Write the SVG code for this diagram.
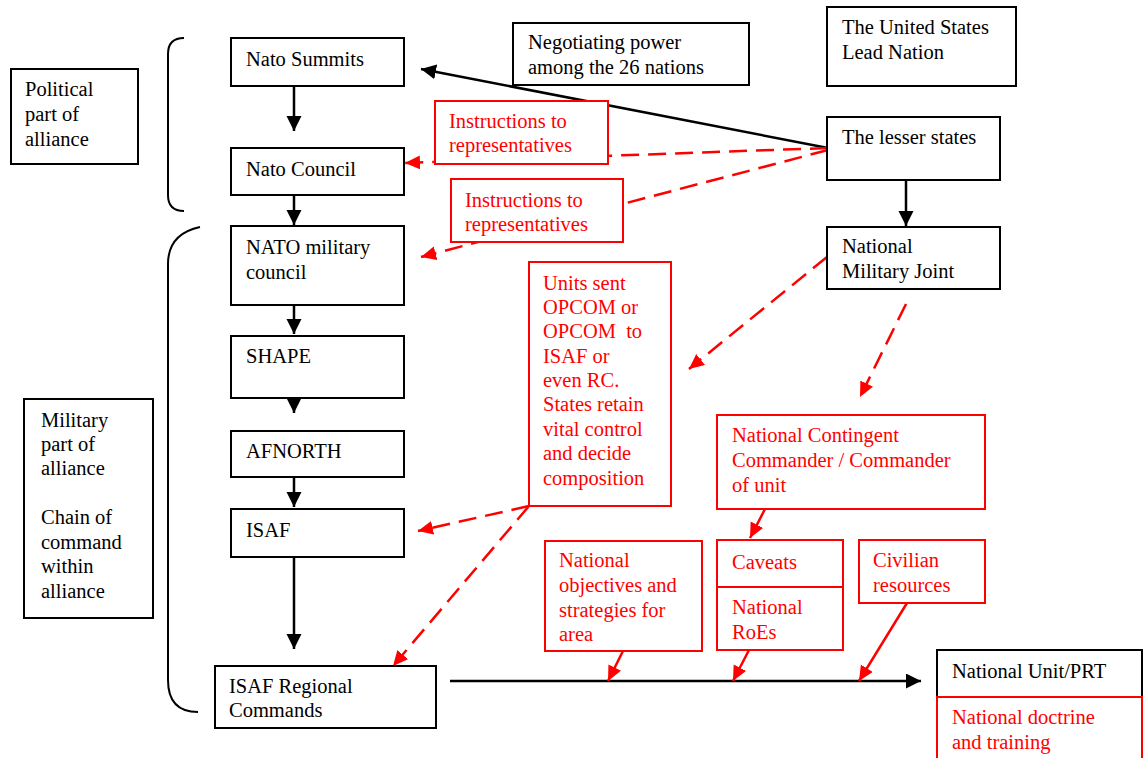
<svg xmlns="http://www.w3.org/2000/svg" width="1148" height="758" viewBox="0 0 1148 758">
<style>
text{font-family:"Liberation Serif","Times New Roman",serif;font-size:20.5px}
.bk rect,rect.bk{fill:#fff;stroke:#000;stroke-width:2}
.rd rect,rect.rd{fill:#fff;stroke:#ff0000;stroke-width:2}
.bk text{fill:#000}
.rd text{fill:#ff0000}
.ab{fill:none;stroke:#000;stroke-width:2.5}
.ar{fill:none;stroke:#ff0000;stroke-width:2.5}
.dash{stroke-dasharray:18 9}
.brace{fill:none;stroke:#000;stroke-width:2}
</style>
<defs>
<marker id="mb" markerUnits="userSpaceOnUse" markerWidth="16" markerHeight="16" refX="15" refY="7.5" orient="auto" viewBox="0 0 16 16"><path d="M0,0 L15,7.5 L0,15 z" fill="#000" stroke="none"/></marker>
<marker id="mr" markerUnits="userSpaceOnUse" markerWidth="16" markerHeight="16" refX="15" refY="7" orient="auto" viewBox="0 0 16 16"><path d="M0,0 L15,7 L0,14 z" fill="#ff0000" stroke="none"/></marker>
</defs>
<rect width="1148" height="758" fill="#fff"/>

<g id="braces">
<path class="brace" d="M184,38 Q168,38 168,54 L168,195 Q168,211 184,211"/>
<path class="brace" d="M200,227 Q168,234 168,264 L168,680 Q168,712 198,712"/>
</g>

<g id="connectors">
<line class="ab" x1="294" y1="86" x2="294" y2="131" marker-end="url(#mb)"/>
<line class="ab" x1="294" y1="195" x2="294" y2="225" marker-end="url(#mb)"/>
<line class="ab" x1="294" y1="305" x2="294" y2="334" marker-end="url(#mb)"/>
<line class="ab" x1="294" y1="398" x2="294" y2="413" marker-end="url(#mb)"/>
<line class="ab" x1="294" y1="477" x2="294" y2="507" marker-end="url(#mb)"/>
<line class="ab" x1="294" y1="557" x2="294" y2="649" marker-end="url(#mb)"/>
<line class="ab" x1="906" y1="180" x2="906" y2="226" marker-end="url(#mb)"/>
<line class="ab" x1="828" y1="148" x2="421" y2="69" marker-end="url(#mb)"/>
<line class="ab" x1="450" y1="681" x2="921" y2="681" marker-end="url(#mb)"/>
<line class="ar dash" x1="828" y1="148" x2="405" y2="163" marker-end="url(#mr)"/>
<line class="ar dash" x1="828" y1="150" x2="421" y2="257" marker-end="url(#mr)"/>
<line class="ar dash" x1="827" y1="257" x2="689" y2="369" marker-end="url(#mr)"/>
<line class="ar dash" x1="906" y1="304" x2="860" y2="397" marker-end="url(#mr)"/>
<line class="ar dash" x1="529" y1="506" x2="418" y2="531" marker-end="url(#mr)"/>
<line class="ar dash" x1="529" y1="506" x2="393" y2="666" marker-end="url(#mr)"/>
<line class="ar" x1="765" y1="509" x2="750" y2="538" marker-end="url(#mr)"/>
<line class="ar" x1="749" y1="650" x2="733" y2="681" marker-end="url(#mr)"/>
<line class="ar" x1="907" y1="603" x2="859" y2="681" marker-end="url(#mr)"/>
<line class="ar" x1="623" y1="651" x2="608" y2="681" marker-end="url(#mr)"/>
</g>

<g id="political" class="bk"><rect x="11" y="69" width="127" height="95"/>
<text x="25" y="96">Political</text><text x="25" y="121">part of</text><text x="25" y="146">alliance</text></g>

<g id="military" class="bk"><rect x="24" y="399" width="129" height="219"/>
<text x="41" y="427">Military</text><text x="41" y="451">part of</text><text x="41" y="475">alliance</text>
<text x="41" y="524">Chain of</text><text x="41" y="549">command</text><text x="41" y="573">within</text><text x="41" y="598">alliance</text></g>

<g id="nato-summits" class="bk"><rect x="231" y="38" width="173" height="48"/><text x="246" y="66">Nato Summits</text></g>
<g id="nato-council" class="bk"><rect x="231" y="148" width="173" height="47"/><text x="246" y="176">Nato Council</text></g>
<g id="nato-military-council" class="bk"><rect x="231" y="226" width="173" height="79"/><text x="246" y="254">NATO military</text><text x="246" y="279">council</text></g>
<g id="shape" class="bk"><rect x="231" y="336" width="173" height="62"/><text x="246" y="363">SHAPE</text></g>
<g id="afnorth" class="bk"><rect x="231" y="431" width="173" height="46"/><text x="246" y="458">AFNORTH</text></g>
<g id="isaf" class="bk"><rect x="231" y="509" width="173" height="48"/><text x="246" y="537">ISAF</text></g>
<g id="isaf-rc" class="bk"><rect x="215" y="666" width="221" height="62"/><text x="229" y="693">ISAF Regional</text><text x="229" y="717">Commands</text></g>

<g id="negotiating" class="bk"><rect x="513" y="23" width="236" height="62"/><text x="528" y="49">Negotiating power</text><text x="528" y="74">among the 26 nations</text></g>
<g id="us-lead" class="bk"><rect x="827" y="7" width="189" height="79"/><text x="842" y="34">The United States</text><text x="842" y="59">Lead Nation</text></g>
<g id="lesser-states" class="bk"><rect x="827" y="117" width="173" height="63"/><text x="842" y="144">The lesser states</text></g>
<g id="national-military-joint" class="bk"><rect x="827" y="227" width="173" height="62"/><text x="842" y="253">National</text><text x="842" y="278">Military Joint</text></g>

<g id="instructions-1" class="rd"><rect x="435" y="101" width="173" height="63"/><text x="449" y="128">Instructions to</text><text x="449" y="152">representatives</text></g>
<g id="instructions-2" class="rd"><rect x="451" y="179" width="172" height="63"/><text x="465" y="207">Instructions to</text><text x="465" y="231">representatives</text></g>

<g id="units-sent" class="rd"><rect x="529" y="262" width="142" height="244"/>
<text x="543" y="290">Units sent</text><text x="543" y="314">OPCOM or</text><text x="543" y="338" xml:space="preserve">OPCOM  to</text><text x="543" y="363">ISAF or</text><text x="543" y="387">even RC.</text><text x="543" y="411">States retain</text><text x="543" y="436">vital control</text><text x="543" y="460">and decide</text><text x="543" y="485">composition</text></g>

<g id="national-contingent" class="rd"><rect x="717" y="415" width="268" height="94"/><text x="732" y="442">National Contingent</text><text x="732" y="467">Commander / Commander</text><text x="732" y="492">of unit</text></g>
<g id="national-objectives" class="rd"><rect x="545" y="541" width="157" height="110"/><text x="559" y="567">National</text><text x="559" y="592">objectives and</text><text x="559" y="617">strategies for</text><text x="559" y="641">area</text></g>
<g id="caveats" class="rd"><rect x="717" y="540" width="126" height="47"/><text x="732" y="569">Caveats</text></g>
<g id="national-roes" class="rd"><rect x="717" y="587" width="126" height="63"/><text x="732" y="614">National</text><text x="732" y="639">RoEs</text></g>
<g id="civilian" class="rd"><rect x="859" y="540" width="126" height="63"/><text x="873" y="567">Civilian</text><text x="873" y="592">resources</text></g>

<g id="national-unit" class="bk"><rect x="937" y="650" width="205" height="47"/><text x="952" y="678">National Unit/PRT</text></g>
<g id="national-doctrine" class="rd"><rect x="937" y="697" width="205" height="70"/><text x="952" y="724">National doctrine</text><text x="952" y="749">and training</text></g>
</svg>
